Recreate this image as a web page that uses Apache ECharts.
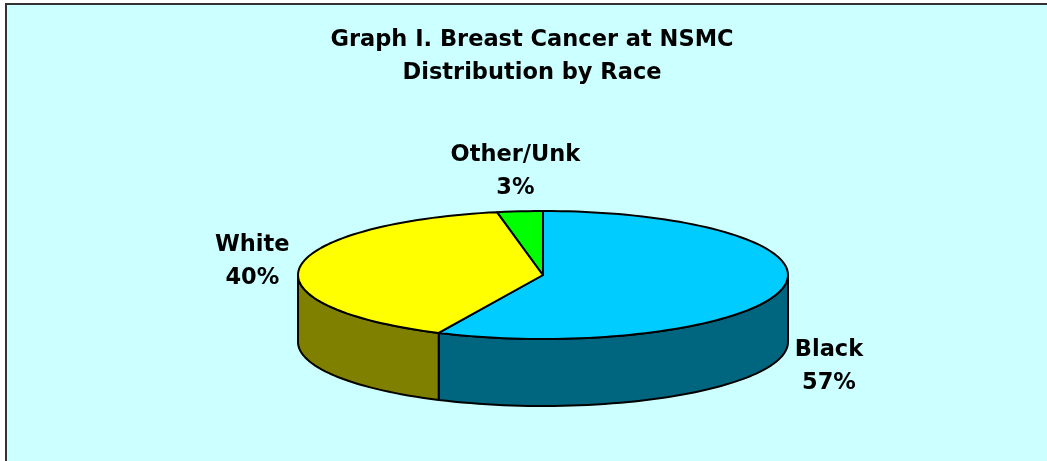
<!DOCTYPE html>
<html>
<head>
<meta charset="utf-8">
<title>Breast Cancer at NSMC</title>
<script src="https://cdn.jsdelivr.net/npm/echarts@6/dist/echarts.min.js"></script>
<style>
  html, body { margin: 0; padding: 0; background: #fff; }
  #main { width: 1047px; height: 461px; }
</style>
</head>
<body>
<div id="main"></div>
<script>
// data
const categories = ['Black', 'White', 'Other/Unk']
const values = [57, 40, 3]
const topColors = ['#00CCFF', '#FFFF00', '#00FF00']
const sideColors = ['#006680', '#808000', '#008000']

// ellipse layout
const cx = 543
const cy = 275
const rx = 245
const ry = 64
const depth = 67
const labelFont = { fontFamily: 'DejaVu Sans', fontSize: 22.5, fontWeight: 'bold' }

const total = values.reduce((a, b) => a + b, 0)

function pt(deg, dy) {
  const t = deg * Math.PI / 180
  return [cx + rx * Math.sin(t), cy - ry * Math.cos(t) + (dy || 0)]
}

function arc(a0, a1, dy) {
  const pts = []
  const n = Math.max(2, Math.ceil(Math.abs(a1 - a0) / 2))
  for (let k = 0; k <= n; k++) {
    pts.push(pt(a0 + (a1 - a0) * k / n, dy))
  }
  return pts
}

function renderItem(params, api) {
  const i = params.dataIndex
  let before = 0
  for (let k = 0; k < i; k++) before += values[k]
  const v = api.value(0)
  const a0 = before / total * 360 // clockwise from 12 o'clock
  const a1 = (before + v) / total * 360
  const children = []

  // front wall (only 90..270 is visible)
  const s = Math.max(a0, 90)
  const e = Math.min(a1, 270)
  if (e > s) {
    const side = arc(s, e, 0).concat(arc(e, s, depth))
    children.push({
      type: 'polygon',
      z2: 1,
      shape: { points: side },
      style: { fill: sideColors[i], stroke: '#000', lineWidth: 2, lineJoin: 'round' }
    })
  }

  // top face
  children.push({
    type: 'polygon',
    z2: 5,
    shape: { points: [[cx, cy]].concat(arc(a0, a1, 0)) },
    style: { fill: topColors[i], stroke: '#000', lineWidth: 2, lineJoin: 'round' }
  })

  // label outside the slice, pushed below the wall when on the front
  const mid = (a0 + a1) / 2
  const t = mid * Math.PI / 180
  const lx = cx + (rx + 48) * Math.sin(t)
  let ly = cy - (ry + 40) * Math.cos(t)
  if (Math.cos(t) < 0) ly += depth + 2
  children.push({
    type: 'text',
    z2: 10,
    x: lx,
    y: ly,
    style: Object.assign({
      text: categories[i] + '\n' + Math.round(v / total * 100) + '%',
      align: 'center',
      verticalAlign: 'middle',
      lineHeight: 33,
      fill: '#000'
    }, labelFont)
  })

  return { type: 'group', children: children }
}

const chart = echarts.init(document.getElementById('main'))
chart.setOption({
  backgroundColor: '#fff',
  animation: false,
  graphic: [{
    type: 'rect',
    z: -10,
    shape: { x: 6, y: 4, width: 1100, height: 500 },
    style: { fill: '#CCFFFF', stroke: '#333', lineWidth: 2 },
    silent: true
  }],
  title: {
    text: 'Graph I. Breast Cancer at NSMC\nDistribution by Race',
    left: 532,
    top: 24,
    padding: 0,
    textAlign: 'center',
    textStyle: Object.assign({ color: '#000', lineHeight: 33 }, labelFont)
  },
  series: [{
    type: 'custom',
    coordinateSystem: 'none',
    silent: true,
    renderItem: renderItem,
    data: values.map(v => [v])
  }]
})
</script>
</body>
</html>
